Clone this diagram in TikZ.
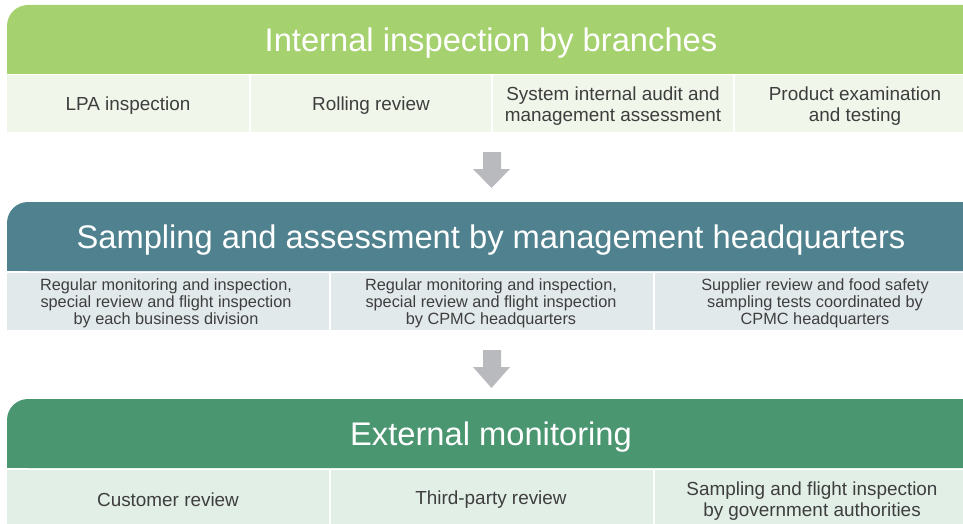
\documentclass[tikz,border=0pt]{standalone}
\usepackage{fontspec}
\setmainfont{Liberation Sans}
\definecolor{hdrA}{HTML}{A5D16F}
\definecolor{bodyA}{HTML}{F0F6EA}
\definecolor{hdrB}{HTML}{4F828E}
\definecolor{bodyB}{HTML}{E2E9EB}
\definecolor{hdrC}{HTML}{4A9670}
\definecolor{bodyC}{HTML}{E2EFE7}
\definecolor{arrowgray}{HTML}{B9BABE}
\definecolor{txt}{HTML}{3E3E3E}
\tikzset{
  hdrtext/.style={text=white, font=\fontsize{32.7}{38}\selectfont, inner sep=0pt},
  celltext/.style={text=txt, font=\fontsize{18.9}{21}\selectfont, align=center, inner sep=0pt},
  smalltext/.style={text=txt, font=\fontsize{16.3}{17}\selectfont, align=center, inner sep=0pt},
  downarrow/.style={fill=arrowgray}
}
\begin{document}
\begin{tikzpicture}[x=1pt,y=-1pt]
\useasboundingbox (0,0) rectangle (963,524);
% ---- band 1
\fill[hdrA, rounded corners=21pt] (7,5) rectangle (985,74);
\fill[hdrA] (7,40) rectangle (985,74);
\fill[bodyA] (7,75.5) rectangle (249,132);
\fill[bodyA] (251,75.5) rectangle (491,132);
\fill[bodyA] (493,75.5) rectangle (733,132);
\fill[bodyA] (735,75.5) rectangle (985,132);
\node[hdrtext] (h1) at (491,43) {Internal inspection by branches};
\node[celltext] (a1) at (128,106) {LPA inspection};
\node[celltext] (a2) at (371,106) {Rolling review};
\node[celltext] (a3) at (613,106.5) {System internal audit and\\management assessment};
\node[celltext] (a4) at (855,106.5) {Product examination\\and testing};
% ---- arrow 1
\fill[downarrow] (483,152) -- (501,152) -- (501,169) -- (510,169) -- (491.5,188) -- (473,169) -- (483,169) -- cycle;
% ---- band 2
\fill[hdrB, rounded corners=21pt] (7,202) rectangle (985,271);
\fill[hdrB] (7,240) rectangle (985,271);
\fill[bodyB] (7,272.5) rectangle (329,329.5);
\fill[bodyB] (331,272.5) rectangle (653,329.5);
\fill[bodyB] (655,272.5) rectangle (985,329.5);
\node[hdrtext] (h2) at (491,240) {Sampling and assessment by management headquarters};
\node[smalltext] (b1) at (166,303) {Regular monitoring and inspection,\\special review and flight inspection\\by each business division};
\node[smalltext] (b2) at (491,303) {Regular monitoring and inspection,\\special review and flight inspection\\by CPMC headquarters};
\node[smalltext] (b3) at (815,303) {Supplier review and food safety\\sampling tests coordinated by\\CPMC headquarters};
% ---- arrow 2
\fill[downarrow] (483,350) -- (501,350) -- (501,367) -- (510,367) -- (491.5,388) -- (473,367) -- (483,367) -- cycle;
% ---- band 3
\fill[hdrC, rounded corners=21pt] (7,399) rectangle (985,468);
\fill[hdrC] (7,435) rectangle (985,468);
\fill[bodyC] (7,469.5) rectangle (329,530);
\fill[bodyC] (331,469.5) rectangle (653,530);
\fill[bodyC] (655,469.5) rectangle (985,530);
\node[hdrtext] (h3) at (491,437) {External monitoring};
\node[celltext] (c1) at (168,500) {Customer review};
\node[celltext] (c2) at (491,500) {Third-party review};
\node[celltext] (c3) at (812,501.5) {Sampling and flight inspection\\by government authorities};
\end{tikzpicture}
\end{document}
